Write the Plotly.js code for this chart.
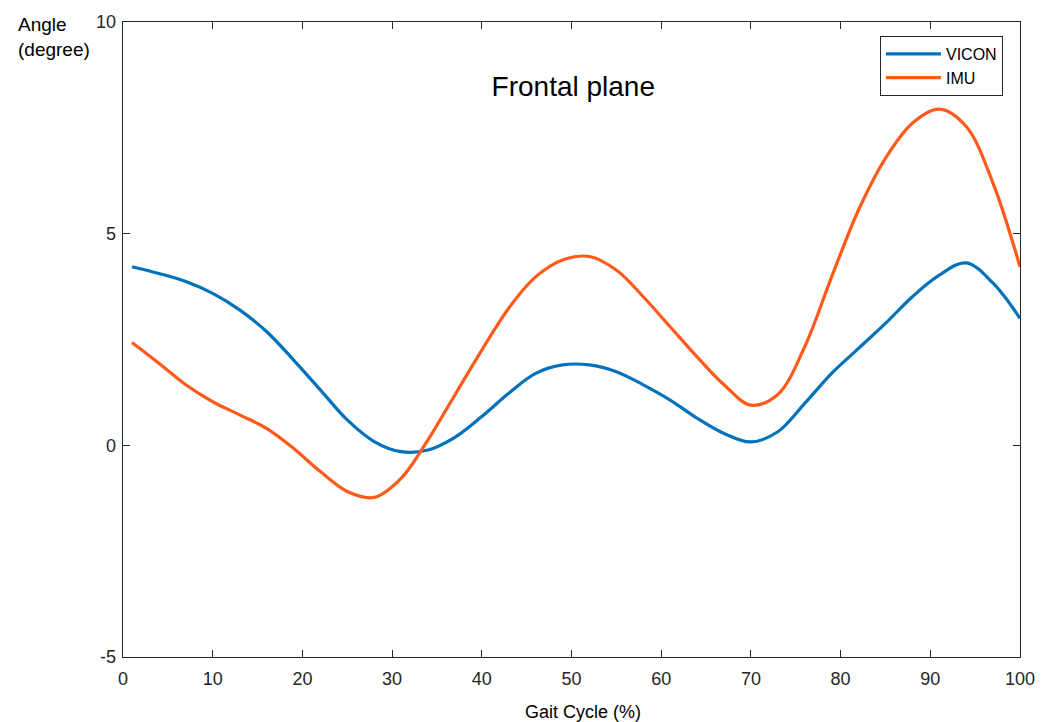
<!DOCTYPE html>
<html>
<head>
<meta charset="utf-8">
<script src="https://cdn.plot.ly/plotly-3.0.1.min.js"></script>
<style>html,body{margin:0;padding:0;background:#fff;}#chart{width:1049px;height:722px;}</style>
</head>
<body>
<div id="chart"></div>
<script>
// Gait cycle (%) sample positions and angles (degree)
const gaitX = [1, 4, 7, 10, 13, 16, 19, 22, 25, 28, 31, 34, 37, 40, 43, 46, 49,
               52, 55, 58, 61, 64, 67, 70, 73, 76, 79, 82, 85, 88, 91, 94, 97, 100];
const viconY = [4.22, 4.06, 3.87, 3.59, 3.20, 2.69, 2.02, 1.31, 0.60, 0.09, -0.15, -0.11, 0.19, 0.68, 1.23, 1.70, 1.90,
                1.90, 1.74, 1.43, 1.07, 0.64, 0.28, 0.08, 0.32, 0.99, 1.70, 2.29, 2.88, 3.51, 4.02, 4.31, 3.83, 3.0];
const imuY = [2.43, 1.94, 1.43, 1.03, 0.72, 0.40, -0.07, -0.62, -1.09, -1.23, -0.78, 0.13, 1.19, 2.25, 3.24, 3.98, 4.38,
              4.46, 4.14, 3.51, 2.80, 2.09, 1.43, 0.95, 1.2, 2.33, 3.98, 5.56, 6.78, 7.61, 7.94, 7.53, 6.19, 4.22];
const seriesNames = ['VICON', 'IMU'];
const xTicks = [0, 10, 20, 30, 40, 50, 60, 70, 80, 90, 100];
const yTicks = [-5, 0, 5, 10];

const FONT = 'Liberation Sans, Arial, Helvetica, sans-serif';
const axisColor = '#262626';

const traces = [
  {x: gaitX, y: viconY, name: seriesNames[0], mode: 'lines', line: {color: '#0072BD', width: 3.2, shape: 'spline', smoothing: 1}},
  {x: gaitX, y: imuY, name: seriesNames[1], mode: 'lines', line: {color: '#FF5A1A', width: 3.2, shape: 'spline', smoothing: 1}}
];

const layout = {
  width: 1049, height: 722,
  margin: {l: 123, r: 29, t: 22, b: 65, pad: 0},
  paper_bgcolor: '#fff', plot_bgcolor: '#fff',
  font: {family: FONT, size: 18, color: axisColor},
  title: {text: 'Frontal plane', font: {family: FONT, size: 28, color: '#000'}, x: 0.502, xref: 'paper', xanchor: 'center', y: 0.899, yref: 'paper', yanchor: 'middle'},
  xaxis: {range: [0, 100], tickvals: xTicks, ticktext: xTicks.map(String), ticks: 'inside', ticklen: 7, tickcolor: axisColor, tickwidth: 1,
          showline: true, linecolor: axisColor, linewidth: 1.3, mirror: 'ticks', showgrid: false, zeroline: false, ticklabelstandoff: 5,
          tickfont: {family: FONT, size: 18, color: axisColor}, fixedrange: true},
  yaxis: {range: [-5, 10], tickvals: yTicks, ticktext: yTicks.map(String), ticks: 'inside', ticklen: 7, tickcolor: axisColor, tickwidth: 1,
          showline: true, linecolor: axisColor, linewidth: 1.3, mirror: 'ticks', showgrid: false, zeroline: false, ticklabelstandoff: 2,
          tickfont: {family: FONT, size: 18, color: axisColor}, fixedrange: true},
  showlegend: true,
  legend: {x: 0.981, xanchor: 'right', y: 0.978, yanchor: 'top', bordercolor: axisColor, borderwidth: 1, bgcolor: '#fff',
           font: {family: FONT, size: 16, color: '#000'}, tracegroupgap: 0, itemwidth: 55},
  annotations: [
    {text: 'Angle<br>(degree)', xref: 'paper', yref: 'paper', x: -0.119, y: 1.016, xanchor: 'left', yanchor: 'top', showarrow: false, align: 'left',
     font: {family: FONT, size: 19, color: '#000'}},
    {text: 'Gait Cycle (%)', xref: 'paper', yref: 'paper', x: 0.513, y: -0.0677, xanchor: 'center', yanchor: 'top', showarrow: false,
     font: {family: FONT, size: 18, color: '#000'}}
  ]
};

Plotly.newPlot('chart', traces, layout, {displayModeBar: false, staticPlot: true});
</script>
</body>
</html>
